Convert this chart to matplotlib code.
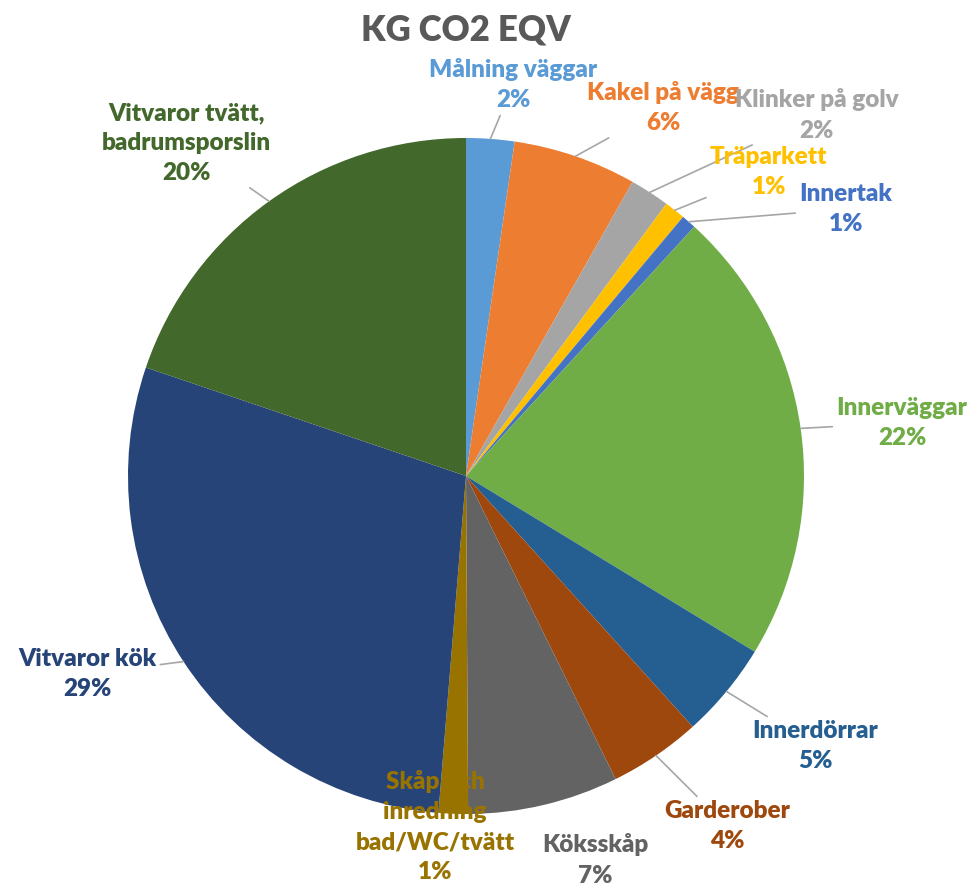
import numpy as np
import matplotlib
matplotlib.use("Agg")
import matplotlib.pyplot as plt

plt.rcParams['font.family'] = ['Lato', 'DejaVu Sans']

title = "KG CO2 EQV"
categories = ["Målning väggar", "Kakel på vägg", "Klinker på golv", "Träparkett",
              "Innertak", "Innerväggar", "Innerdörrar", "Garderober", "Köksskåp",
              "Skåp och\ninredning\nbad/WC/tvätt", "Vitvaror kök",
              "Vitvaror tvätt,\nbadrumsporslin"]
values = [2.3, 5.9, 1.9, 1.0, 0.7, 21.9, 4.6, 4.4, 7.2, 1.4, 28.9, 19.8]
colors = ["#5B9BD5", "#ED7D31", "#A5A5A5", "#FFC000", "#4472C4", "#70AD47",
          "#255E91", "#9E480E", "#636363", "#997300", "#264478", "#43682B"]

# label layout (data coords, pie radius = 1)
label_pos = [(0.139, 1.157), (0.583, 1.089), (1.038, 1.068), (0.896, 0.899),
             (1.124, 0.790), (1.290, 0.157), (1.033, -0.799), (0.772, -1.036),
             (0.382, -1.136), (-0.092, -1.038), (-1.121, -0.586), (-0.828, 0.985)]
leader = [True, True, True, True, True, True, True, True, False, False, True, True]

W, H = 970, 886
fig = plt.figure(figsize=(W / 100, H / 100), dpi=100)
cx, cy, r = 466, 476, 338
ax = fig.add_axes([(cx - r) / W, (H - cy - r) / H, 2 * r / W, 2 * r / H])
ax.set_xlim(-1, 1)
ax.set_ylim(-1, 1)
ax.set_aspect('equal')
ax.axis('off')

wedges, _ = ax.pie(values, colors=colors, startangle=90, counterclock=False,
                   radius=1, wedgeprops=dict(linewidth=0))
ax.set_xlim(-1, 1)
ax.set_ylim(-1, 1)

total = sum(values)
for w, lab, val, col, pos, ld in zip(wedges, categories, values, colors, label_pos, leader):
    mid = np.deg2rad((w.theta1 + w.theta2) / 2)
    edge = (np.cos(mid), np.sin(mid))
    txt = f"{lab}\n{val / total * 100:.0f}%"
    kw = dict(xy=edge, xytext=pos, ha='center', va='center', color=col,
              fontsize=17.5, fontweight='heavy', linespacing=1.45,
              annotation_clip=False, zorder=5)
    if ld:
        kw['arrowprops'] = dict(arrowstyle='-', color='#A6A6A6', lw=1.2,
                                shrinkA=1, shrinkB=0)
    ax.annotate(txt, **kw)

fig.text(466 / W, 1 - 30 / H, title, ha='center', va='center', fontsize=25,
         fontweight='heavy', color='#595959')

fig.savefig("out.png", dpi=100)
